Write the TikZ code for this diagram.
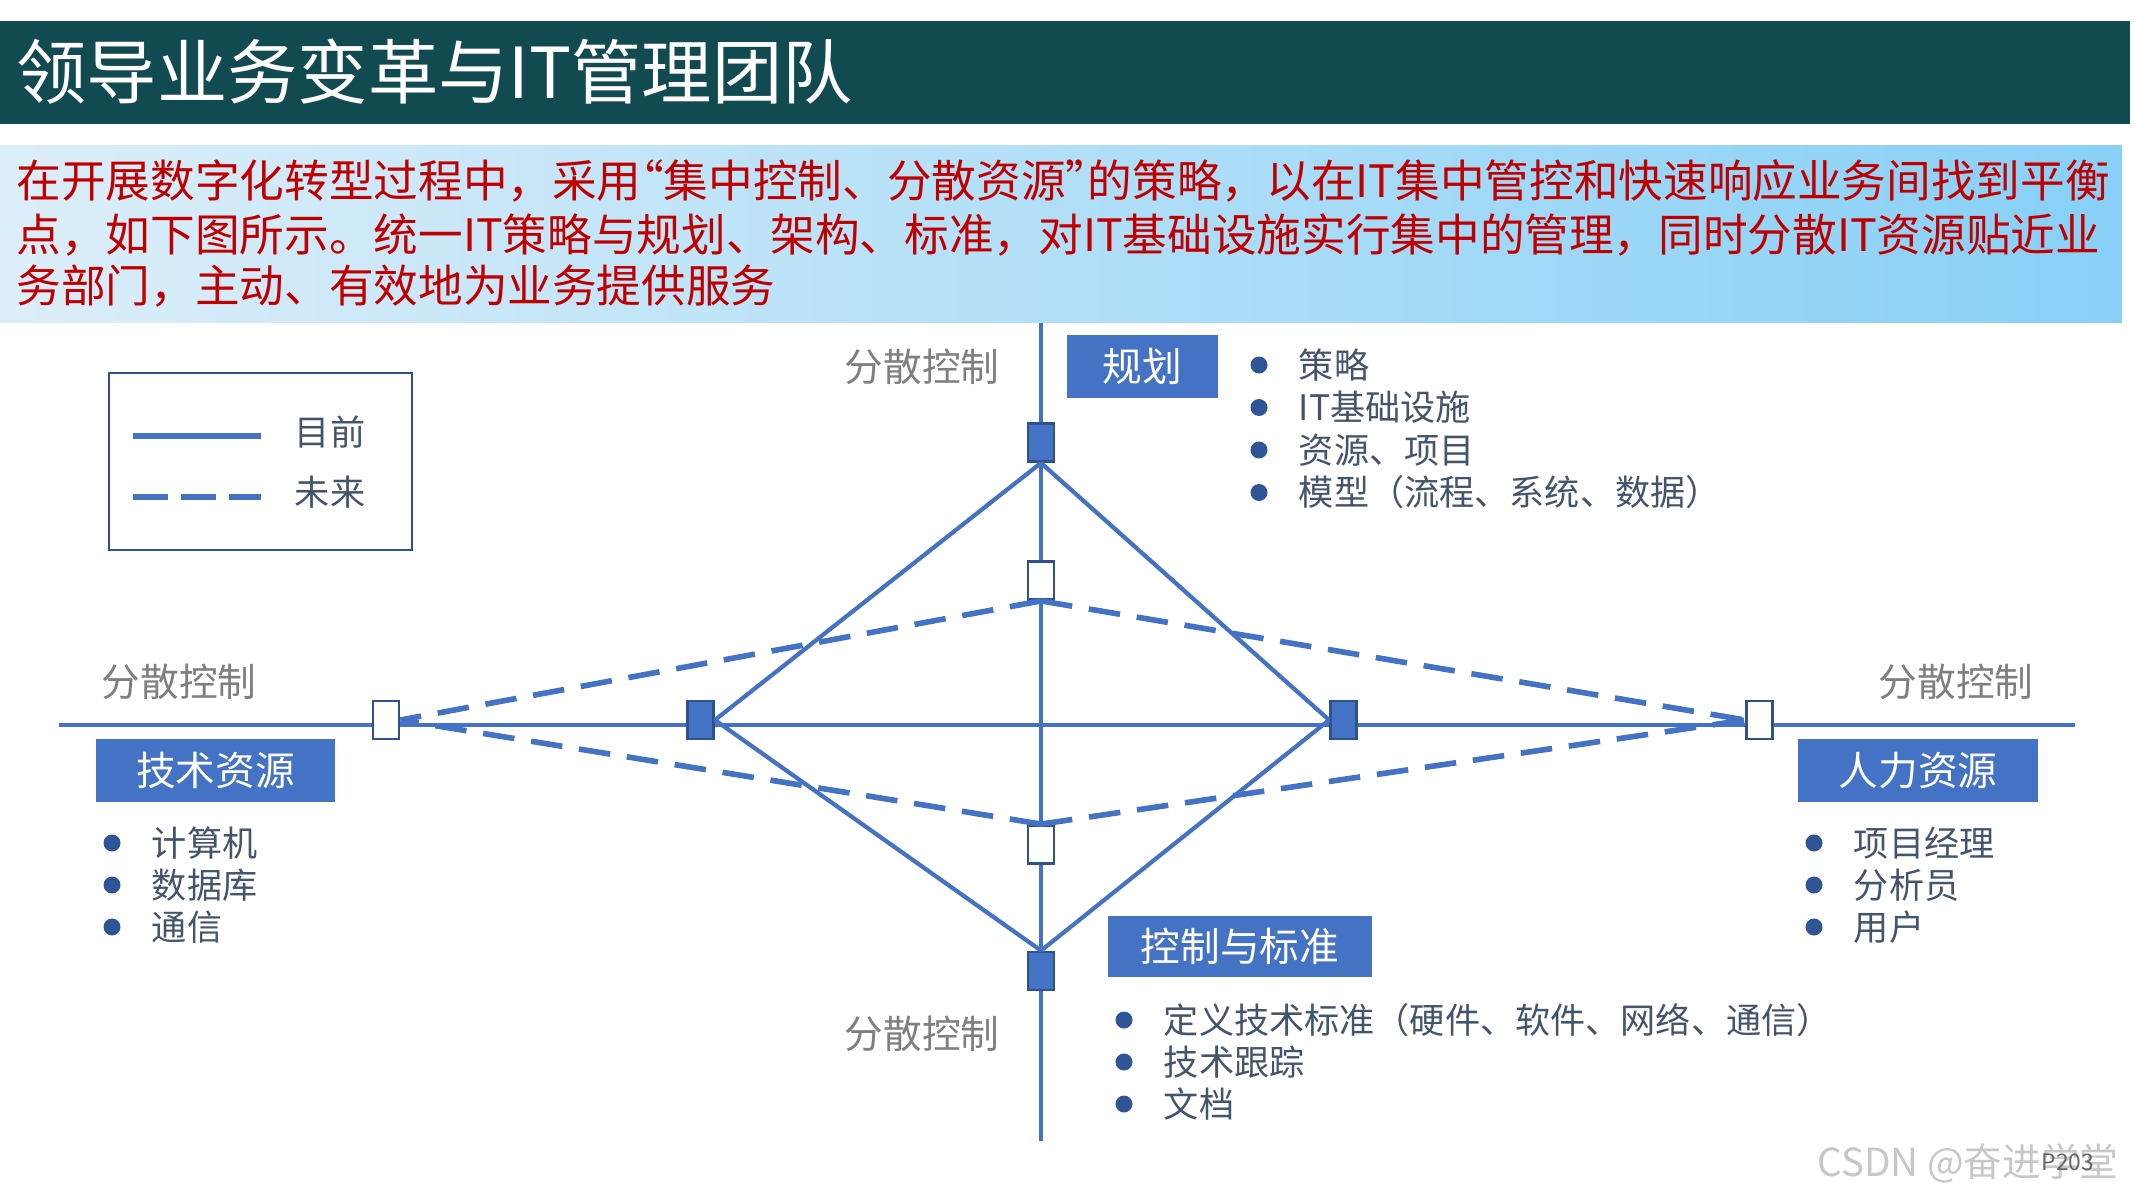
\documentclass[tikz,border=0pt]{standalone}
\usepackage{fontspec}
\setmainfont{Noto Sans CJK SC}
\usetikzlibrary{positioning,calc}

\definecolor{titlebg}{HTML}{114B51}
\definecolor{bandL}{HTML}{DCEEF9}
\definecolor{bandR}{HTML}{88D0F7}
\definecolor{introred}{HTML}{C00000}
\definecolor{lineblue}{HTML}{4472C4}
\definecolor{edgeblue}{HTML}{2F528F}
\definecolor{dotblue}{HTML}{2F5597}
\definecolor{itemtxt}{HTML}{44546A}
\definecolor{ctrlgray}{HTML}{7F7F7F}

\begin{document}
\begin{tikzpicture}[
    axisline/.style={lineblue, line width=1.4pt},
    now/.style={lineblue, line width=1.2pt},
    future/.style={lineblue, line width=1.6pt, dash pattern=on 9pt off 4.8pt},
    cur/.style={rectangle, draw=edgeblue, fill=lineblue, line width=0.8pt,
                minimum width=0.26cm, minimum height=0.38cm, inner sep=0pt},
    fut/.style={cur, fill=white},
    areabox/.style={rectangle, fill=lineblue, text=white, inner sep=0pt,
                    minimum height=0.63cm, font=\fontsize{11.3pt}{13pt}\selectfont},
    ctrl/.style={text=ctrlgray, inner sep=0pt, font=\fontsize{11pt}{13pt}\selectfont},
    bdot/.style={circle, fill=dotblue, minimum size=0.17cm, inner sep=0pt},
    bitem/.style={text=itemtxt, inner sep=0pt, font=\fontsize{10pt}{12pt}\selectfont},
    intro/.style={anchor=west, text=introred, inner sep=0pt, font=\fontsize{12.7pt}{15pt}\selectfont}
  ]
  \useasboundingbox (0,0) rectangle (21.34,12);

  % title bar and intro band
  \fill[titlebg] (0,11.79) rectangle (21.30,10.76);
  \node[anchor=west, text=white, inner sep=0pt, font=\fontsize{20pt}{24pt}\selectfont]
    (title) at (0.16,11.28) {领导业务变革与IT管理团队};
  \shade[left color=bandL, right color=bandR] (0,10.54) rectangle (21.22,8.77);
  \node[intro] (l1) at (0.16,10.19) {在开展数字化转型过程中，采用\kern-0.5em“集中控制、分散资源”\kern-0.5em 的策略，以在IT集中管控和快速响应业务间找到平衡};
  \node[intro] (l2) at (0.16,9.65) {点，如下图所示。统一IT策略与规划、架构、标准，对IT基础设施实行集中的管理，同时分散IT资源贴近业};
  \node[intro] (l3) at (0.16,9.14) {务部门，主动、有效地为业务提供服务};

  % axes
  \coordinate (axN) at (10.41,8.77);
  \coordinate (axS) at (10.41,0.59);
  \coordinate (axW) at (0.59,4.75);
  \coordinate (axE) at (20.75,4.75);
  \draw[axisline] (axN) -- (axS);
  \draw[axisline] (axW) -- (axE);

  % current (solid) and future (dashed) points
  \node[cur] (cT) at (10.41,7.575) {};
  \node[cur] (cB) at (10.41,2.29) {};
  \node[cur] (cL) at (7.005,4.80) {};
  \node[cur] (cR) at (13.435,4.80) {};
  \node[fut] (fT) at (10.41,6.195) {};
  \node[fut] (fB) at (10.41,3.555) {};
  \node[fut] (fL) at (3.86,4.80) {};
  \node[fut] (fR) at (17.595,4.80) {};

  \foreach \a/\b in {cT.south/cL.east, cT.south/cR.west, cB.north/cL.east, cB.north/cR.west}
    \draw[now] (\a) -- (\b);
  \foreach \a/\b in {fT.south/fL.east, fT.south/fR.west, fB.north/fL.east, fB.north/fR.west}
    \draw[future] (\a) -- (\b);

  % legend
  \node[draw=edgeblue, line width=0.8pt, minimum width=3.03cm, minimum height=1.77cm]
    (legend) at (2.605,7.385) {};
  \coordinate (lgA) at (1.33,7.64);
  \coordinate (lgB) at (2.61,7.64);
  \coordinate (lgC) at (1.33,7.03);
  \coordinate (lgD) at (2.61,7.03);
  \draw[lineblue, line width=1.5pt] (lgA) -- (lgB);
  \draw[lineblue, line width=1.5pt, dash pattern=on 0.35cm off 0.13cm] (lgC) -- (lgD);
  \node[bitem] (lgNow) at (3.30,7.68) {目前};
  \node[bitem] (lgFut) at (3.30,7.08) {未来};

  % control labels
  \node[ctrl] (ctN) at (9.22,8.33) {分散控制};
  \node[ctrl] (ctW) at (1.79,5.18) {分散控制};
  \node[ctrl] (ctE) at (19.56,5.18) {分散控制};
  \node[ctrl] (ctS) at (9.22,1.66) {分散控制};

  % area boxes
  \node[areabox, minimum width=1.51cm] (plan) at (11.425,8.335) {规划};
  \node[areabox, minimum width=2.39cm] (tech) at (2.155,4.295) {技术资源};
  \node[areabox, minimum width=2.40cm] (hr) at (19.18,4.295) {人力资源};
  \node[areabox, minimum width=2.64cm, minimum height=0.61cm] (std) at (12.40,2.535) {控制与标准};

  % bullet lists
  \foreach \t [count=\i] in {策略, IT基础设施, 资源、项目, 模型（流程、系统、数据）}{
    \node[bdot] (pd\i) at (12.59,{8.775-0.425*\i}) {};
    \node[bitem, right=0.3cm of pd\i] (pt\i) {\t};
  }
  \foreach \t [count=\i] in {计算机, 数据库, 通信}{
    \node[bdot] (td\i) at (1.12,{3.99-0.42*\i}) {};
    \node[bitem, right=0.3cm of td\i] (tt\i) {\t};
  }
  \foreach \t [count=\i] in {项目经理, 分析员, 用户}{
    \node[bdot] (hd\i) at (18.14,{3.99-0.42*\i}) {};
    \node[bitem, right=0.3cm of hd\i] (ht\i) {\t};
  }
  \foreach \t [count=\i] in {定义技术标准（硬件、软件、网络、通信）, 技术跟踪, 文档}{
    \node[bdot] (sd\i) at (11.24,{2.22-0.42*\i}) {};
    \node[bitem, right=0.3cm of sd\i] (st\i) {\t};
  }

  % watermark
  \node[text=black!22, inner sep=0pt, font=\fontsize{11pt}{13pt}\selectfont] (wm) at (19.68,0.37) {CSDN @奋进学堂};
  \node[text=black!60, inner sep=0pt, font=\fontsize{6.5pt}{8pt}\selectfont] (pg) at (20.68,0.38) {P203};
\end{tikzpicture}
\end{document}
